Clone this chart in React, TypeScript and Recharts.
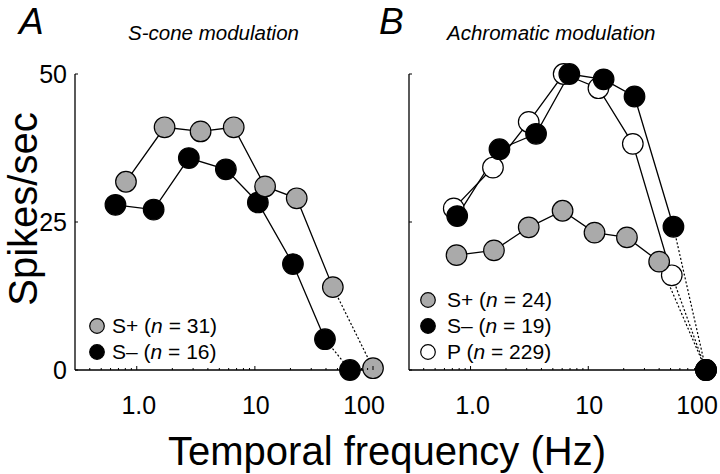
import React from 'react';
import { ComposedChart, Line, XAxis, YAxis, Legend } from 'recharts';

const FONT = '"Liberation Sans", Arial, Helvetica, sans-serif';

// ---------- Panel A: S-cone modulation ----------
const aSPlusFreq = [0.81, 1.72, 3.47, 6.62, 12.2, 22.6, 45.7];
const aSPlusRate = [31.8, 41.0, 40.3, 41.0, 31.0, 29.0, 14.0];
const aSPlusEnd = { f: 100, v: 0.3 };

const aSMinusFreq = [0.66, 1.39, 2.76, 5.68, 10.6, 21.0, 39.2];
const aSMinusRate = [27.9, 27.1, 35.8, 33.9, 28.3, 17.9, 5.2];
const aSMinusEnd = { f: 63.8, v: 0 };

// ---------- Panel B: Achromatic modulation ----------
const bSPlusFreq = [0.76, 1.58, 3.12, 6.05, 11.3, 21.3, 40.0];
const bSPlusRate = [19.4, 20.2, 24.1, 26.9, 23.2, 22.4, 18.3];

const bSMinusFreq = [0.77, 1.76, 3.6, 6.9, 13.5, 24.7, 52.9];
const bSMinusRate = [26.0, 37.3, 39.9, 50.0, 49.1, 46.2, 24.2];

const bPFreq = [0.72, 1.55, 3.12, 6.18, 12.2, 23.9, 51.2];
const bPRate = [27.3, 34.2, 41.9, 50.0, 47.6, 38.2, 16.0];

const bEnd = { f: 100, v: 0 };

// ---------- Axes ----------
const xDomain = [0.3, 100];
const xTicks = [0.4, 0.5, 0.6, 0.7, 0.8, 0.9, 1, 2, 3, 4, 5, 6, 7, 8, 9, 10, 20, 30, 40, 50, 60, 70, 80, 90, 100];
const xMajor = [1, 10, 100];
const xTickLabels: Record<number, string> = { 1: '1.0', 10: '10', 100: '100' };
const xTickLabelShift: Record<number, number> = { 1: 2, 10: 1, 100: -9 };
const yDomain = [0, 50];
const yTicks = [0, 25, 50];

const GRAY = '#aaaaaa';
const BLACK = '#000000';
const WHITE = '#ffffff';

const AXIS_W = 30; // reserved width of y axis area
const AXIS_H = 30; // reserved height of x axis area

type Pt = { f: number; v: number };
const toPts = (fs: number[], vs: number[]): Pt[] => fs.map((f, i) => ({ f, v: vs[i] }));

const XTick = (props: any) => {
  const { x, y, payload } = props;
  const val = payload.value;
  const major = xMajor.includes(val);
  const label = xTickLabels[val];
  return (
    <g>
      <line x1={x} x2={x} y1={y} y2={y - (major ? 4 : 2)} stroke="#000" strokeWidth={1} />
      {label ? (
        <text
          x={x + (xTickLabelShift[val] || 0)}
          y={y + 44}
          textAnchor="middle"
          fontSize={25}
          fontFamily={FONT}
          fill="#000"
        >
          {label}
        </text>
      ) : null}
    </g>
  );
};

const YTick = (props: any) => {
  const { x, y, payload, show } = props;
  return (
    <g>
      <line x1={x} x2={x + 3} y1={y} y2={y} stroke="#000" strokeWidth={1} />
      {show ? (
        <text x={x - 8} y={y + 9} textAnchor="end" fontSize={25} fontFamily={FONT} fill="#000">
          {payload.value}
        </text>
      ) : null}
    </g>
  );
};

type Series = { name: string; n: number; fill: string; pts: Pt[]; end: Pt };

const LegendBox = ({ items, gap }: { items: Series[]; gap: number }) => (
  <div style={{ fontFamily: FONT, fontSize: 21, color: '#000' }}>
    {items.map((s) => (
      <div key={s.name} style={{ display: 'flex', alignItems: 'center', height: 26, lineHeight: '26px' }}>
        <svg width={16} height={26} style={{ display: 'block' }}>
          <circle cx={8} cy={13} r={7.3} fill={s.fill} stroke="#000" strokeWidth={1.2} />
        </svg>
        <span style={{ marginLeft: gap, whiteSpace: 'nowrap' }}>
          {s.name} (<i>n</i> = {s.n})
        </span>
      </div>
    ))}
  </div>
);

type PanelProps = {
  left: number;
  width: number;
  mLeft: number;
  mRight: number;
  showYLabels: boolean;
  series: Series[];
  markerOrder: number[];
  legendOrder: number[];
  legendLeft: number;
  legendTop: number;
  legendGap: number;
};

const Panel = (p: PanelProps) => (
  <div style={{ position: 'absolute', left: p.left, top: 0 }}>
    <ComposedChart
      width={p.width}
      height={474}
      margin={{ top: 74, bottom: 104 - AXIS_H, left: p.mLeft, right: p.mRight }}
    >
      <XAxis
        type="number"
        dataKey="f"
        scale="log"
        domain={xDomain}
        ticks={xTicks}
        interval={0}
        height={AXIS_H}
        tickSize={0}
        tickMargin={0}
        tickLine={false}
        tick={(tp: any) => <XTick {...tp} />}
        axisLine={{ stroke: '#000', strokeWidth: 1.3 }}
      />
      <YAxis
        type="number"
        dataKey="v"
        domain={yDomain}
        ticks={yTicks}
        interval={0}
        width={AXIS_W}
        tickSize={0}
        tickMargin={0}
        tickLine={false}
        tick={(tp: any) => <YTick {...tp} show={p.showYLabels} />}
        axisLine={{ stroke: '#000', strokeWidth: 1.3 }}
      />
      {p.series.map((s) => (
        <Line
          key={'dot-' + s.name}
          data={[s.pts[s.pts.length - 1], s.end]}
          dataKey="v"
          type="linear"
          stroke="#000"
          strokeWidth={1.2}
          strokeDasharray="2 2"
          dot={false}
          activeDot={false}
          legendType="none"
          isAnimationActive={false}
        />
      ))}
      {p.series.map((s) => (
        <Line
          key={'line-' + s.name}
          data={s.pts}
          dataKey="v"
          type="linear"
          stroke="#000"
          strokeWidth={1.3}
          dot={false}
          activeDot={false}
          legendType="none"
          isAnimationActive={false}
        />
      ))}
      {p.markerOrder.map((i) => {
        const s = p.series[i];
        return (
          <Line
            key={'mk-' + s.name}
            data={[...s.pts, s.end]}
            dataKey="v"
            type="linear"
            stroke="none"
            dot={{ r: 10.3, fill: s.fill, stroke: '#000', strokeWidth: 1.2 }}
            activeDot={false}
            legendType="none"
            isAnimationActive={false}
          />
        );
      })}
      <Legend
        layout="vertical"
        align="center"
        verticalAlign="middle"
        wrapperStyle={{ left: p.legendLeft, top: p.legendTop, width: 'auto' }}
        content={() => <LegendBox items={p.legendOrder.map((i) => p.series[i])} gap={p.legendGap} />}
      />
    </ComposedChart>
  </div>
);

const seriesA: Series[] = [
  { name: 'S+', n: 31, fill: GRAY, pts: toPts(aSPlusFreq, aSPlusRate), end: aSPlusEnd },
  { name: 'S–', n: 16, fill: BLACK, pts: toPts(aSMinusFreq, aSMinusRate), end: aSMinusEnd },
];

const seriesB: Series[] = [
  { name: 'S+', n: 24, fill: GRAY, pts: toPts(bSPlusFreq, bSPlusRate), end: bEnd },
  { name: 'S–', n: 19, fill: BLACK, pts: toPts(bSMinusFreq, bSMinusRate), end: bEnd },
  { name: 'P', n: 229, fill: WHITE, pts: toPts(bPFreq, bPRate), end: bEnd },
];

// panel B chart placement
const B_LEFT = 350;

export default function App() {
  return (
    <div
      style={{
        position: 'absolute',
        left: 0,
        top: 0,
        width: 720,
        height: 474,
        background: '#fff',
        fontFamily: FONT,
        overflow: 'hidden',
      }}
    >
      <Panel
        left={0}
        width={400}
        mLeft={75 - AXIS_W}
        mRight={27}
        showYLabels={true}
        series={seriesA}
        markerOrder={[1, 0]}
        legendOrder={[0, 1]}
        legendLeft={89}
        legendTop={313}
        legendGap={7}
      />
      <Panel
        left={B_LEFT}
        width={720 - B_LEFT}
        mLeft={409 - B_LEFT - AXIS_W}
        mRight={720 - 706}
        showYLabels={false}
        series={seriesB}
        markerOrder={[2, 0, 1]}
        legendOrder={[0, 1, 2]}
        legendLeft={420 - B_LEFT}
        legendTop={287}
        legendGap={11}
      />
      <svg
        width={720}
        height={474}
        style={{ position: 'absolute', left: 0, top: 0, pointerEvents: 'none' }}
        fontFamily={FONT}
      >
        <text x={19} y={34} fontSize={37} fontStyle="italic">A</text>
        <text x={128} y={40} fontSize={20.5} fontStyle="italic">S-cone modulation</text>
        <text x={379} y={34} fontSize={37} fontStyle="italic">B</text>
        <text x={447} y={40} fontSize={20.5} fontStyle="italic">Achromatic modulation</text>
        <text x={37} y={209} fontSize={40} textAnchor="middle" transform="rotate(-90, 37, 209)">
          Spikes/sec
        </text>
        <text x={387} y={465} fontSize={40} textAnchor="middle">
          Temporal frequency (Hz)
        </text>
      </svg>
    </div>
  );
}
